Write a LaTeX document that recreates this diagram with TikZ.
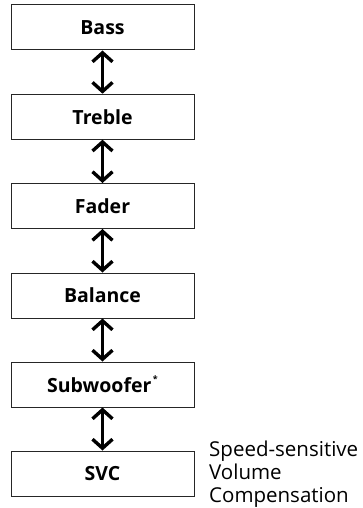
\documentclass[tikz,border=0pt]{standalone}
\usepackage{fontspec}
\setmainfont{Open Sans}
\usetikzlibrary{arrows.meta}
\begin{document}
\begin{tikzpicture}[x=1pt,y=-1pt,
  menubox/.style={draw=black!85, line width=1pt, minimum width=183pt, minimum height=45pt,
    inner sep=0pt, font=\fontsize{19.5}{22}\selectfont\bfseries},
  dblarrow/.style={line width=3.4pt, {Straight Barb[length=9pt,width=20pt]}-{Straight Barb[length=9pt,width=20pt]}}]
\useasboundingbox (0,0) rectangle (362,508);
\node[menubox] (bass) at (102.5,27.5) {Bass};
\node[menubox] (treble) at (102.5,116.7) {Treble};
\node[menubox] (fader) at (102.5,206) {Fader};
\node[menubox] (balance) at (102.5,295.5) {Balance};
\node[menubox] (sub) at (102.5,384.5) {Subwoofer\hspace{1.5pt}\raisebox{0.5em}{\fontsize{9}{9}\selectfont *}};
\node[menubox] (svc) at (102.5,473.5) {SVC};
\node[anchor=west, align=left, inner sep=0pt, font=\fontsize{20.5}{23}\selectfont] (note) at (209,474) {Speed-sensitive\\Volume\\Compensation};
\draw[dblarrow] (bass.south) -- (treble.north);
\draw[dblarrow] (treble.south) -- (fader.north);
\draw[dblarrow] (fader.south) -- (balance.north);
\draw[dblarrow] (balance.south) -- (sub.north);
\draw[dblarrow] (sub.south) -- (svc.north);
\end{tikzpicture}
\end{document}
